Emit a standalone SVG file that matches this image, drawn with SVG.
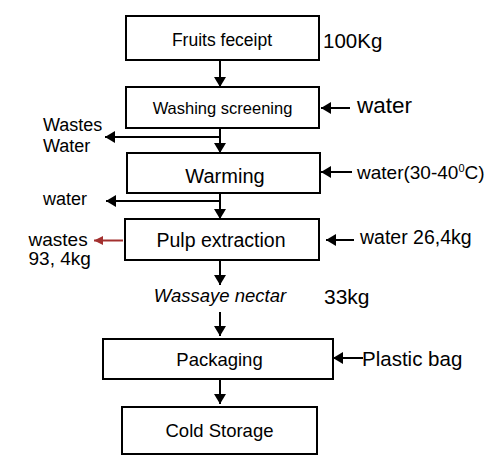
<svg xmlns="http://www.w3.org/2000/svg" width="500" height="475" viewBox="0 0 500 475">
<style>
.box{fill:#fff;stroke:#000;stroke-width:2}
.ln{fill:none;stroke:#000;stroke-width:2}
.t{font-family:"Liberation Sans",Arial,sans-serif;fill:#000}
.c{font-family:"Liberation Sans",Arial,sans-serif;fill:#000}
</style>
<defs>
<marker id="ah" viewBox="0 0 10 12" refX="10" refY="6" markerWidth="10" markerHeight="12" markerUnits="userSpaceOnUse" orient="auto">
<path d="M0,0 L10,6 L0,12 z" fill="#000"/>
</marker>
<marker id="ahr" viewBox="0 0 10 10" refX="10" refY="5" markerWidth="9" markerHeight="9" markerUnits="userSpaceOnUse" orient="auto">
<path d="M0,0 L10,5 L0,10 z" fill="#A3302F"/>
</marker>
</defs>
<rect width="500" height="475" fill="#fff"/>
<g id="connectors">
<line class="ln" x1="220" y1="60" x2="220" y2="87" marker-end="url(#ah)"/>
<line class="ln" x1="350" y1="108" x2="321" y2="108" marker-end="url(#ah)"/>
<line class="ln" x1="220" y1="128" x2="220" y2="153" marker-end="url(#ah)"/>
<line class="ln" x1="220" y1="137" x2="105" y2="137" marker-end="url(#ah)"/>
<line class="ln" x1="352" y1="172" x2="321" y2="172" marker-end="url(#ah)"/>
<line class="ln" x1="220" y1="193" x2="220" y2="219" marker-end="url(#ah)"/>
<line class="ln" x1="220" y1="201" x2="106" y2="201" marker-end="url(#ah)"/>
<line x1="123" y1="240.5" x2="94" y2="240.5" stroke="#A3302F" stroke-width="2" marker-end="url(#ahr)"/>
<line class="ln" x1="354" y1="240" x2="326" y2="240" marker-end="url(#ah)"/>
<line class="ln" x1="220" y1="260" x2="220" y2="285" marker-end="url(#ah)"/>
<line class="ln" x1="220" y1="312" x2="220" y2="336" marker-end="url(#ah)"/>
<line class="ln" x1="363" y1="358" x2="333" y2="358" marker-end="url(#ah)"/>
<line class="ln" x1="220" y1="379" x2="220" y2="404" marker-end="url(#ah)"/>
</g>
<g id="n1"><rect class="box" x="126" y="16" width="193" height="44"/><text class="t" x="222" y="46" font-size="17.5" text-anchor="middle">Fruits feceipt</text></g>
<g id="n2"><rect class="box" x="126" y="87" width="193" height="41"/><text class="t" x="222.5" y="114" font-size="16.5" text-anchor="middle">Washing screening</text></g>
<g id="n3"><rect class="box" x="127" y="153" width="193" height="40"/><text class="t" x="225" y="183" font-size="20" text-anchor="middle">Warming</text></g>
<g id="n4"><rect class="box" x="125" y="219" width="194" height="41"/><text class="t" x="221" y="247" font-size="19.5" text-anchor="middle">Pulp extraction</text></g>
<g id="n5"><text class="t" x="220" y="302" font-size="18.5" font-style="italic" text-anchor="middle">Wassaye nectar</text></g>
<g id="n6"><rect class="box" x="103" y="339" width="230" height="40"/><text class="c" x="219.5" y="366" font-size="18.5" text-anchor="middle">Packaging</text></g>
<g id="n7"><rect class="box" x="122" y="407" width="195" height="47"/><text class="c" x="219.5" y="437" font-size="18.5" text-anchor="middle">Cold Storage</text></g>
<g id="labels">
<text class="c" x="323" y="48" font-size="20.5">100Kg</text>
<text class="c" x="357" y="113" font-size="22.5">water</text>
<text class="t" x="43" y="131" font-size="18">Wastes</text>
<text class="t" x="43" y="151.5" font-size="18">Water</text>
<text class="c" x="357" y="178.5" font-size="19">water(30-40<tspan font-size="11" dy="-7">0</tspan><tspan dy="7">C)</tspan></text>
<text class="t" x="43" y="204.5" font-size="18">water</text>
<text class="t" x="28.5" y="245.5" font-size="19">wastes</text>
<text class="t" x="28.5" y="265" font-size="19">93, 4kg</text>
<text class="c" x="360" y="243.5" font-size="19.5">water 26,4kg</text>
<text class="c" x="324" y="304" font-size="21">33kg</text>
<text class="c" x="362" y="366" font-size="20.5">Plastic bag</text>
</g>
</svg>
